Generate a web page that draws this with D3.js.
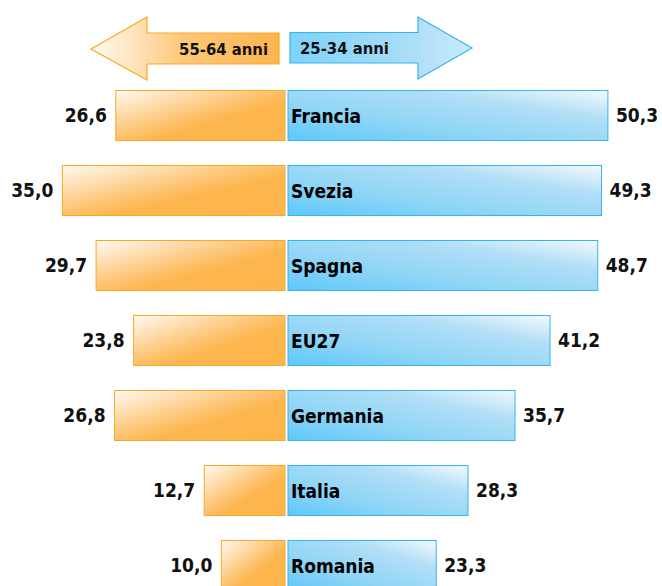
<!DOCTYPE html>
<html>
<head>
<meta charset="utf-8">
<script src="https://cdn.jsdelivr.net/npm/d3@7"></script>
<style>
  body { margin: 0; background: #fff; }
  text { font-family: "DejaVu Sans Condensed", "DejaVu Sans", sans-serif; font-weight: bold; }
</style>
</head>
<body>
<script>
var countries = ["Francia", "Svezia", "Spagna", "EU27", "Germania", "Italia", "Romania"];
var older = [26.6, 35.0, 29.7, 23.8, 26.8, 12.7, 10.0];   // 55-64 anni
var younger = [50.3, 49.3, 48.7, 41.2, 35.7, 28.3, 23.3]; // 25-34 anni
var seriesNames = ["55-64 anni", "25-34 anni"];

var w = 662, h = 586;
var midL = 285, midR = 288;

var svg = d3.select("body").append("svg")
    .attr("width", w)
    .attr("height", h);

var defs = svg.append("defs");

function grad(id, x1, y1, x2, y2, stops) {
    var g = defs.append("linearGradient").attr("id", id)
        .attr("x1", x1).attr("y1", y1).attr("x2", x2).attr("y2", y2);
    stops.forEach(function(s) {
        g.append("stop").attr("offset", s[0]).attr("stop-color", s[1]);
    });
}
grad("gOrange", 0, 0, 1, 1, [[0, "#fffaf3"], [0.45, "#fdc575"], [0.6, "#fdb64e"], [1, "#fdb44b"]]);
grad("gBlue", 0, 1, 1, 0, [[0, "#5ec8f9"], [0.35, "#8fd5f6"], [0.7, "#b0def6"], [1, "#f4f9fd"]]);
grad("aOrange", 0, 0, 1, 0, [[0, "#fffbf5"], [0.5, "#fdc778"], [1, "#fdb44b"]]);
grad("aBlue", 0, 0, 1, 0, [[0, "#7fd2f9"], [0.6, "#a6dcf7"], [1, "#c9eafb"]]);

var x = d3.scaleLinear().domain([0, 55]).range([0, 55 * 6.36]);

var y = d3.scaleBand()
    .domain(countries)
    .range([78, 603])
    .paddingInner(1 / 3)
    .paddingOuter(1 / 6);

var fmt = function(v) { return d3.format(".1f")(v).replace(".", ","); };

// header arrows
svg.append("path")
    .attr("d", "M91,49 L147,17 L147,33 L279,33 L279,64 L147,64 L147,80 Z")
    .attr("fill", "url(#aOrange)")
    .attr("stroke", "#f9a826")
    .attr("stroke-width", 1.2);
svg.append("path")
    .attr("d", "M290,32.5 L418,32.5 L418,17 L472,48 L418,79 L418,63 L290,63 Z")
    .attr("fill", "url(#aBlue)")
    .attr("stroke", "#35b5ec")
    .attr("stroke-width", 1.2);
svg.append("text")
    .attr("x", 268).attr("y", 55)
    .attr("text-anchor", "end")
    .attr("font-size", 16.5)
    .attr("fill", "#111")
    .text(seriesNames[0]);
svg.append("text")
    .attr("x", 300).attr("y", 54)
    .attr("font-size", 16.5)
    .attr("fill", "#111")
    .text(seriesNames[1]);

var rows = svg.append("g").selectAll("g")
    .data(countries)
    .enter().append("g")
    .attr("transform", function(d) { return "translate(0," + y(d) + ")"; });

rows.append("rect")
    .attr("x", function(d, i) { return midL - x(older[i]); })
    .attr("y", 0)
    .attr("width", function(d, i) { return x(older[i]); })
    .attr("height", y.bandwidth())
    .attr("fill", "url(#gOrange)")
    .attr("stroke", "#f9a826")
    .attr("stroke-width", 1);

rows.append("rect")
    .attr("x", midR)
    .attr("y", 0)
    .attr("width", function(d, i) { return x(younger[i]); })
    .attr("height", y.bandwidth())
    .attr("fill", "url(#gBlue)")
    .attr("stroke", "#35b5ec")
    .attr("stroke-width", 1);

rows.append("text")
    .attr("x", midR + 3)
    .attr("y", y.bandwidth() / 2)
    .attr("dy", "0.4em")
    .attr("font-size", 19)
    .attr("fill", "#000")
    .text(function(d) { return d; });

rows.append("text")
    .attr("x", function(d, i) { return midL - x(older[i]) - 9; })
    .attr("y", y.bandwidth() / 2)
    .attr("dy", "0.36em")
    .attr("text-anchor", "end")
    .attr("font-size", 19)
    .attr("fill", "#111")
    .text(function(d, i) { return fmt(older[i]); });

rows.append("text")
    .attr("x", function(d, i) { return midR + x(younger[i]) + 8; })
    .attr("y", y.bandwidth() / 2)
    .attr("dy", "0.36em")
    .attr("font-size", 19)
    .attr("fill", "#111")
    .text(function(d, i) { return fmt(younger[i]); });
</script>
</body>
</html>
